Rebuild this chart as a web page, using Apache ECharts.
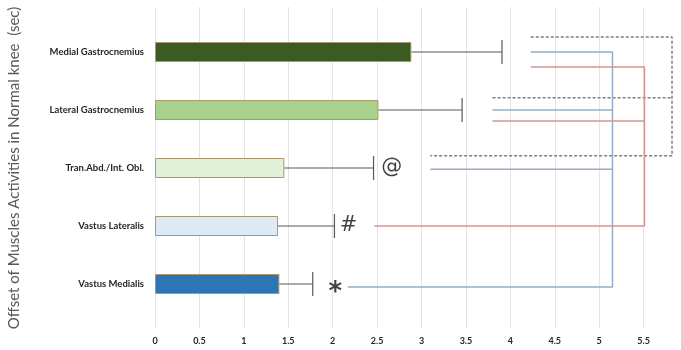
<!DOCTYPE html>
<html>
<head>
<meta charset="utf-8">
<script src="https://cdn.jsdelivr.net/npm/echarts@6/dist/echarts.min.js"></script>
<style>
  html, body { margin: 0; padding: 0; background: #fff; }
  #chart { width: 681px; height: 350px; }
</style>
</head>
<body>
<div id="chart"></div>
<script>
// categories, bottom to top
const muscles = ['Vastus Medialis', 'Vastus Lateralis', 'Tran.Abd./Int. Obl.', 'Lateral Gastrocnemius', 'Medial Gastrocnemius']
const offsetMean = [1.40, 1.385, 1.456, 2.515, 2.886]
const offsetUpper = [1.776, 2.02, 2.46, 3.457, 3.906]
const barColors = ['#2E75B6', '#DEEBF7', '#E2F0D9', '#A9D18E', '#3B5B23']
const xTicks = [0, 0.5, 1, 1.5, 2, 2.5, 3, 3.5, 4, 4.5, 5, 5.5]

// significance marks [x, category index, mark]
const marks = [[2.03, 0, '*'], [2.18, 1, '#'], [2.665, 2, '@']]

// comparison brackets, [x, y] with y in category units
const dashedBracket = [[4.23, 4.26], [5.82, 4.26], [5.82, 2.21], [3.10, 2.21]]
const dashedMiddle = [[3.80, 3.21], [5.82, 3.21]]
const blueBracket = [[4.23, 4.0], [5.15, 4.0], [5.15, -0.05], [2.17, -0.05]]
const blueLateral = [[3.80, 3.0], [5.15, 3.0]]
const blueTran = [[3.10, 1.98], [5.15, 1.98]]
const redBracket = [[4.23, 3.74], [5.51, 3.74], [5.51, 1.0], [2.47, 1.0]]
const redLateral = [[3.80, 2.81], [5.51, 2.81]]

const chart = echarts.init(document.getElementById('chart'))

function bracket (data, color, dashed) {
  return {
    type: 'line',
    xAxisIndex: 0,
    yAxisIndex: 1,
    data: data,
    clip: false,
    symbol: 'none',
    silent: true,
    lineStyle: { color: color, width: 1.5, type: dashed ? [3, 2] : 'solid' },
    z: 1
  }
}

// axis runs to 6, the right edge of the picture cuts the last tick off
chart.setOption({
  animation: false,
  grid: [
    { left: 155, right: -7, top: 23, bottom: 37, outerBoundsMode: 'none' },
    { left: 155, right: -7, top: 7, bottom: 22, outerBoundsMode: 'none' }
  ],
  xAxis: [{
    gridIndex: 0,
    type: 'value',
    min: 0,
    max: 6,
    interval: 0.5,
    axisLine: { show: false },
    axisTick: { show: false },
    axisLabel: { show: false },
    splitLine: { show: false }
  }, {
    gridIndex: 1,
    type: 'value',
    min: 0,
    max: 6,
    interval: 0.5,
    axisLine: { show: false },
    axisTick: { show: false },
    axisLabel: {
      margin: 9,
      fontFamily: 'Lato',
      fontWeight: 'bold',
      fontSize: 9,
      color: '#262626',
      formatter: v => xTicks.indexOf(v) >= 0 ? String(v) : ''
    },
    splitLine: { lineStyle: { color: '#E4E4E4', width: 1 } }
  }],
  yAxis: [{
    gridIndex: 0,
    type: 'category',
    data: muscles,
    axisLine: { show: false },
    axisTick: { show: false },
    axisLabel: {
      margin: 11,
      fontFamily: 'Lato',
      fontWeight: 'bold',
      fontSize: 9.5,
      color: '#262626'
    },
    name: 'Offset of Muscles Activities in Normal knee  (sec)',
    nameLocation: 'middle',
    nameRotate: 90,
    nameGap: 133,
    nameTextStyle: { fontFamily: 'Lato', fontSize: 15, color: '#595959' }
  }, {
    gridIndex: 0,
    type: 'value',
    min: -0.5,
    max: 4.5,
    show: false
  }, {
    gridIndex: 1,
    type: 'value',
    show: false
  }],
  series: [{
    type: 'bar',
    xAxisIndex: 0,
    yAxisIndex: 0,
    barWidth: 20,
    data: offsetMean.map((v, i) => ({
      value: v,
      itemStyle: { color: barColors[i] }
    })),
    itemStyle: { borderColor: '#A89A6C', borderWidth: 1 },
    z: 3
  }, {
    type: 'custom',
    xAxisIndex: 0,
    yAxisIndex: 0,
    data: offsetMean.map((v, i) => [v, i, offsetUpper[i]]),
    renderItem: function (params, api) {
      const a = api.coord([api.value(0), api.value(1)])
      const b = api.coord([api.value(2), api.value(1)])
      const st = { stroke: '#595959', lineWidth: 1.2 }
      return {
        type: 'group',
        children: [
          { type: 'line', shape: { x1: a[0], y1: a[1], x2: b[0], y2: b[1] }, style: st },
          { type: 'line', shape: { x1: b[0], y1: b[1] - 12, x2: b[0], y2: b[1] + 12 }, style: st }
        ]
      }
    },
    z: 4
  }, {
    type: 'scatter',
    xAxisIndex: 0,
    yAxisIndex: 0,
    symbolSize: 0,
    data: marks.map(m => ({
      value: m,
      label: m[2] === '*' ? { fontSize: 26, fontWeight: 'bold', offset: [0, 9] } : {}
    })),
    label: {
      show: true,
      position: 'inside',
      formatter: p => p.value[2],
      fontFamily: 'DejaVu Sans',
      fontSize: 21,
      color: '#111'
    },
    z: 5
  },
  bracket(dashedBracket, '#7F7F7F', true),
  bracket(dashedMiddle, '#7F7F7F', true),
  bracket(blueBracket, '#95AFC8', false),
  bracket(blueLateral, '#95AFC8', false),
  bracket(blueTran, '#95AFC8', false),
  bracket(redBracket, '#D69494', false),
  bracket(redLateral, '#D69494', false)
  ]
})
</script>
</body>
</html>
